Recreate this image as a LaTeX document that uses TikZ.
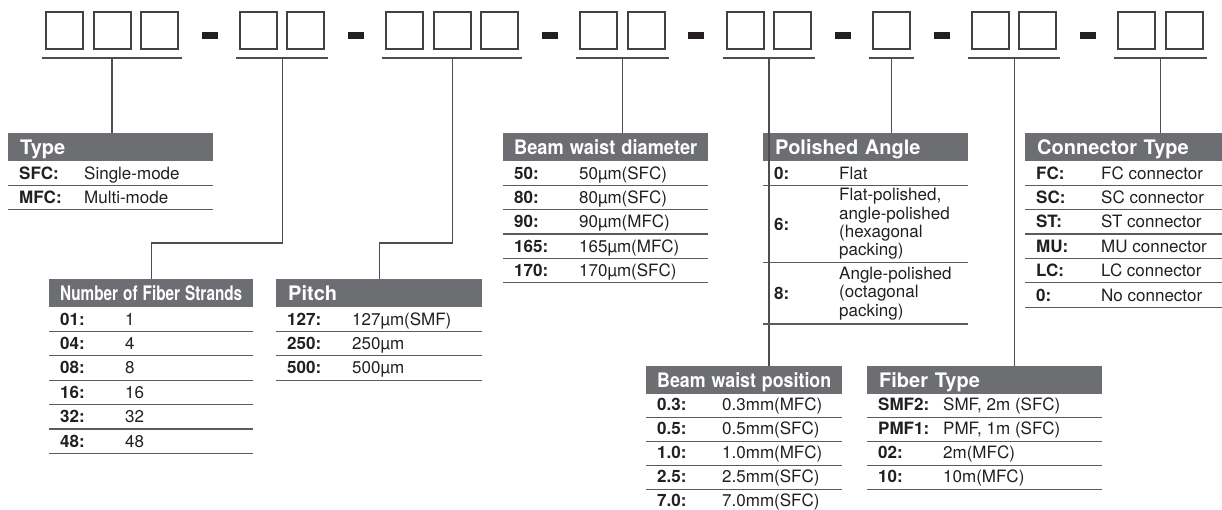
\documentclass[tikz,border=0pt]{standalone}
\usepackage{fontspec}
\setmainfont{TeX Gyre Heros}
\usepackage{graphicx}
\usetikzlibrary{positioning,calc}

\definecolor{ink}{HTML}{231F20}
\definecolor{hdrgray}{HTML}{6D6E71}
\definecolor{rulegray}{HTML}{5A5B5D}

\begin{document}
\begin{tikzpicture}[x=1pt,y=-1pt,node distance=8.5pt,
  digit/.style={draw=ink!85,line width=2pt,minimum size=37pt,inner sep=0pt},
  hyph/.style={fill=ink,minimum width=16pt,minimum height=7pt,inner sep=0pt},
  hdr/.style={fill=hdrgray,text=white,anchor=north west,minimum height=27.5pt,inner xsep=12pt,inner ysep=0pt,
    text height=14.4pt,text depth=0pt,align=left,font=\fontsize{20}{22}\selectfont\bfseries},
  key/.style={anchor=base west,inner sep=0pt,text=ink,font=\fontsize{17}{18.3}\selectfont\bfseries},
  val/.style={anchor=base west,inner sep=0pt,text=ink,font=\fontsize{17}{18.3}\selectfont},
  rowln/.style={draw=rulegray,line width=1.2pt},
  lead/.style={draw=rulegray!85!black,line width=1.3pt}]
\useasboundingbox (0,0) rectangle (1222,510);

% code boxes
\node[digit] (g1a) at (64.5,30.5) {};
\node[digit,right=of g1a] (g1b) {};
\node[digit,right=of g1b] (g1c) {};
\node[hyph,right=22.5pt of g1c,yshift=-5pt] (d1) {};
\node[digit,right=21pt of d1,yshift=5pt] (g2a) {};
\node[digit,right=of g2a] (g2b) {};
\node[hyph,right=22.5pt of g2b,yshift=-5pt] (d2) {};
\node[digit,right=21pt of d2,yshift=5pt] (g3a) {};
\node[digit,right=of g3a] (g3b) {};
\node[digit,right=of g3b] (g3c) {};
\node[hyph,right=22.5pt of g3c,yshift=-5pt] (d3) {};
\node[digit,right=21pt of d3,yshift=5pt] (g4a) {};
\node[digit,right=of g4a] (g4b) {};
\node[hyph,right=22.5pt of g4b,yshift=-5pt] (d4) {};
\node[digit,right=21pt of d4,yshift=5pt] (g5a) {};
\node[digit,right=of g5a] (g5b) {};
\node[hyph,right=22.5pt of g5b,yshift=-5pt] (d5) {};
\node[digit,right=21pt of d5,yshift=5pt] (g6) {};
\node[hyph,right=22.5pt of g6,yshift=-5pt] (d6) {};
\node[digit,right=21pt of d6,yshift=5pt] (g7a) {};
\node[digit,right=of g7a] (g7b) {};
\node[hyph,right=22.5pt of g7b,yshift=-5pt] (d7) {};
\node[digit,right=21pt of d7,yshift=5pt] (g8a) {};
\node[digit,right=of g8a] (g8b) {};

% brackets under the groups
\coordinate (lvl) at (0,58);
\draw[lead] ($(g1a.west|-lvl)+(-3,0)$) -- coordinate (k1) ($(g1c.east|-lvl)+(3,0)$);
\draw[lead] ($(g2a.west|-lvl)+(-3,0)$) -- coordinate (k2) ($(g2b.east|-lvl)+(3,0)$);
\draw[lead] ($(g3a.west|-lvl)+(-3,0)$) -- coordinate (k3) ($(g3c.east|-lvl)+(3,0)$);
\draw[lead] ($(g4a.west|-lvl)+(-3,0)$) -- coordinate (k4) ($(g4b.east|-lvl)+(3,0)$);
\draw[lead] ($(g5a.west|-lvl)+(-3,0)$) -- coordinate (k5) ($(g5b.east|-lvl)+(3,0)$);
\draw[lead] ($(g6.west|-lvl)+(-3,0)$) -- coordinate (k6) ($(g6.east|-lvl)+(3,0)$);
\draw[lead] ($(g7a.west|-lvl)+(-3,0)$) -- coordinate (k7) ($(g7b.east|-lvl)+(3,0)$);
\draw[lead] ($(g8a.west|-lvl)+(-3,0)$) -- coordinate (k8) ($(g8b.east|-lvl)+(3,0)$);

% table headers
\node[hdr,text width=181pt] (type) at (8,133) {Type};
\node[hdr,inner xsep=11pt,text width=182pt] (nfs) at (49,279) {\resizebox{182pt}{\height}{Number of Fiber Strands}};
\node[hdr,text width=182pt] (pitch) at (276,279) {Pitch};
\node[hdr,inner xsep=11pt,text width=183pt] (bwd) at (503,133) {\resizebox{183pt}{\height}{Beam waist diameter}};
\node[hdr,inner xsep=11pt,text width=174pt] (bwp) at (646,366) {\resizebox{174pt}{\height}{Beam waist position}};
\node[hdr,text width=181pt] (pa) at (763,133) {Polished Angle};
\node[hdr,text width=211pt] (fib) at (867,366) {Fiber Type};
\node[hdr,text width=173pt] (con) at (1025,133) {Connector Type};

% leaders
\draw[lead] (k1) -- (k1 |- type.north);
\draw[lead] (k2) |- ($(nfs.north)+(0,-36)$) -- (nfs.north);
\draw[lead] (k3) |- ($(pitch.north)+(0,-36)$) -- (pitch.north);
\draw[lead] (k4) -- (k4 |- bwd.north);
\draw[lead] (k5) -- (k5 |- bwp.north);
\draw[lead] (k6) -- (k6 |- pa.north);
\draw[lead] (k7) -- (k7 |- fib.north);
\draw[lead] (k8) -- (k8 |- con.north);

% rows
\foreach \k/\v [count=\i] in {SFC:/Single-mode,MFC:/Multi-mode}{
  \node[key] (type-k\i) at ($(type.south west)+(11,\i*24.4-6.2)$) {\k};
  \node[val] (type-v\i) at ($(type.south west)+(76,\i*24.4-6.2)$) {\v};
  \draw[rowln] ($(type.south west)+(0,\i*24.4)$) -- ($(type.south east)+(0,\i*24.4)$);
}
\foreach \k/\v [count=\i] in {01:/1,04:/4,08:/8,16:/16,32:/32,48:/48}{
  \node[key] (nfs-k\i) at ($(nfs.south west)+(11,\i*24.4-6.2)$) {\k};
  \node[val] (nfs-v\i) at ($(nfs.south west)+(76,\i*24.4-6.2)$) {\v};
  \draw[rowln] ($(nfs.south west)+(0,\i*24.4)$) -- ($(nfs.south east)+(0,\i*24.4)$);
}
\foreach \k/\v [count=\i] in {127:/127µm(SMF),250:/250µm,500:/500µm}{
  \node[key] (pitch-k\i) at ($(pitch.south west)+(11,\i*24.4-6.2)$) {\k};
  \node[val] (pitch-v\i) at ($(pitch.south west)+(76,\i*24.4-6.2)$) {\v};
  \draw[rowln] ($(pitch.south west)+(0,\i*24.4)$) -- ($(pitch.south east)+(0,\i*24.4)$);
}
\foreach \k/\v [count=\i] in {50:/50µm(SFC),80:/80µm(SFC),90:/90µm(MFC),165:/165µm(MFC),170:/170µm(SFC)}{
  \node[key] (bwd-k\i) at ($(bwd.south west)+(11,\i*24.4-6.2)$) {\k};
  \node[val] (bwd-v\i) at ($(bwd.south west)+(76,\i*24.4-6.2)$) {\v};
  \draw[rowln] ($(bwd.south west)+(0,\i*24.4)$) -- ($(bwd.south east)+(0,\i*24.4)$);
}
\foreach \k/\v [count=\i] in {0.3:/0.3mm(MFC),0.5:/0.5mm(SFC),1.0:/1.0mm(MFC),2.5:/2.5mm(SFC),7.0:/7.0mm(SFC)}{
  \node[key] (bwp-k\i) at ($(bwp.south west)+(11,\i*23.8-6.8)$) {\k};
  \node[val] (bwp-v\i) at ($(bwp.south west)+(76,\i*23.8-6.8)$) {\v};
  \ifnum\i<5
    \draw[rowln] ($(bwp.south west)+(0,\i*23.8)$) -- ($(bwp.south east)+(0,\i*23.8)$);
  \fi
}
\foreach \k/\v [count=\i] in {SMF2:/{SMF, 2m (SFC)},PMF1:/{PMF, 1m (SFC)},02:/2m(MFC),10:/10m(MFC)}{
  \node[key] (fib-k\i) at ($(fib.south west)+(11,\i*23.8-6.8)$) {\k};
  \node[val] (fib-v\i) at ($(fib.south west)+(76,\i*23.8-6.8)$) {\v};
  \draw[rowln] ($(fib.south west)+(0,\i*23.8)$) -- ($(fib.south east)+(0,\i*23.8)$);
}
\foreach \k/\v [count=\i] in {FC:/FC connector,SC:/SC connector,ST:/ST connector,MU:/MU connector,LC:/LC connector,0:/No connector}{
  \node[key] (con-k\i) at ($(con.south west)+(11,\i*24.4-6.2)$) {\k};
  \node[val] (con-v\i) at ($(con.south west)+(76,\i*24.4-6.2)$) {\v};
  \draw[rowln] ($(con.south west)+(0,\i*24.4)$) -- ($(con.south east)+(0,\i*24.4)$);
}

% polished angle, rows of unequal height
\node[key] (pa-k1) at ($(pa.south west)+(11,18.2)$) {0:};
\node[val] (pa-v1) at ($(pa.south west)+(76,18.2)$) {Flat};
\node[key] (pa-k2) at ($(pa.south west)+(11,69.2)$) {6:};
\node[val,anchor=west,align=left] (pa-v2) at ($(pa.south west)+(76,63.2)$) {Flat-polished,\\angle-polished\\(hexagonal\\packing)};
\node[key] (pa-k3) at ($(pa.south west)+(11,138.5)$) {8:};
\node[val,anchor=west,align=left] (pa-v3) at ($(pa.south west)+(76,132.5)$) {Angle-polished\\(octagonal\\packing)};
\foreach \d in {24.4,102,163}
  \draw[rowln] ($(pa.south west)+(0,\d)$) -- ($(pa.south east)+(0,\d)$);
\end{tikzpicture}
\end{document}
